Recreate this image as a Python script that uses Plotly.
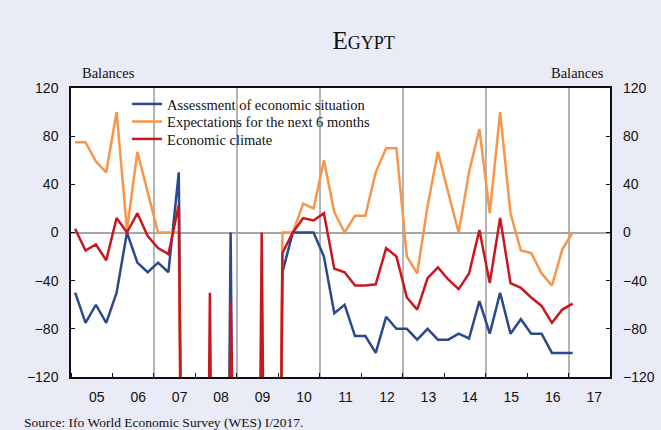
import plotly.graph_objects as go

# ---------------- data (quarterly survey rounds, 2005 Q1 .. 2017 Q1) ----------------
MISSING = -999  # code for survey rounds without a value (drawn off-scale, as in the original)
M = MISSING

years = list(range(2005, 2018))
quarters = [(y, q) for y in years for q in (1, 2, 3, 4)][:49]

assessment = [-50, -75, -60, -75,
              -50, 0, -25, -33,
              -25, -33, 50, M,
              M, M, M, 0,
              M, M, M, M,
              -33, 0, 0, 0,
              -20, -67, -60, -86,
              -86, -100, -70, -80,
              -80, -89, -80, -89,
              -89, -84, -88, -57,
              -84, -50, -84, -72,
              -84, -84, -100, -100,
              -100]

expectations = [75, 75, 59, 50,
                100, 2, 67, 33,
                0, 0, 0, M,
                M, M, M, M,
                M, M, M, M,
                0, 0, 24, 20,
                60, 17, 0, 14,
                14, 50, 70, 70,
                -20, -34, 22, 67,
                33, 0, 50, 86,
                16, 100, 16, -15,
                -17, -34, -44, -14,
                0]

climate = [3, -15, -10, -23,
           12, 0, 16, -3,
           -13, -18, 23, M,
           M, -50, M, -58,
           M, M, 0, M,
           -17, 0, 12, 10,
           16, -30, -33, -44,
           -44, -43, -13, -20,
           -54, -64, -38, -29,
           -39, -47, -34, 2,
           -42, 12, -42, -46,
           -54, -61, -75, -64,
           -59]

series_names = ["Assessment of economic situation",
                "Expectations for the next 6 months",
                "Economic climate"]
series_colors = ["#2B4A8B", "#F7964A", "#C8181F"]

year_labels = ["05", "06", "07", "08", "09", "10", "11", "12", "13", "14", "15", "16", "17"]
y_ticks = [-120, -80, -40, 0, 40, 80, 120]

# x position of each survey round (fraction of year)
xpos = [y + (q - 1) * 0.25 + 0.1 for (y, q) in quarters]

SERIF = "Liberation Serif, Times New Roman, serif"
SANS = "Liberation Sans, Arial, sans-serif"

legend_ids = ["legend", "legend2", "legend3"]
legend_rows = [0.9446, 0.884, 0.8235]

fig = go.Figure()
for name, vals, col, lid in zip(series_names, [assessment, expectations, climate],
                                series_colors, legend_ids):
    fig.add_trace(go.Scatter(x=xpos, y=vals, mode="lines", name=name, legend=lid,
                             line=dict(color=col, width=2.5), connectgaps=False))

# helper trace for the overlay axes (right labels, biennial grid)
fig.add_trace(go.Scatter(x=[None], y=[None], xaxis="x2", yaxis="y2",
                         showlegend=False, hoverinfo="skip"))

legend_style = dict(x=0.104, xanchor="left", yanchor="middle",
                    bgcolor="rgba(0,0,0,0)", borderwidth=0,
                    font=dict(family=SERIF, size=14.5, color="#111"))

fig.update_layout(
    width=661, height=430, autosize=False,
    margin=dict(l=71, r=51, t=88, b=53, autoexpand=False),
    paper_bgcolor="#E9EBF7",
    plot_bgcolor="white",
    title=dict(text="E<span style='font-size:18px'>GYPT</span>",
               font=dict(family=SERIF, size=25, color="#111"),
               x=0.55, xanchor="center", xref="container",
               y=0.907, yanchor="middle", yref="container"),
    showlegend=True,
    legend=dict(y=legend_rows[0], **legend_style),
    legend2=dict(y=legend_rows[1], **legend_style),
    legend3=dict(y=legend_rows[2], **legend_style),
    xaxis=dict(range=[2005, 2018], automargin=False,
               tickmode="array",
               tickvals=[y + 0.62 for y in years],
               ticktext=year_labels,
               ticks="", showgrid=False, zeroline=False,
               showline=True, mirror=True, linecolor="#111", linewidth=1.5,
               tickfont=dict(family=SANS, size=14, color="#111"),
               ticklabelstandoff=6,
               minor=dict(tickmode="array", tickvals=list(range(2005, 2019)),
                          ticks="inside", ticklen=4, tickcolor="#111", tickwidth=1,
                          showgrid=False)),
    xaxis2=dict(range=[2005, 2018], overlaying="x", anchor="y", side="bottom",
                automargin=False,
                tickmode="array", tickvals=list(range(2007, 2018, 2)),
                showgrid=True, gridcolor="#B4B4B4", gridwidth=1.5,
                showticklabels=False, ticks="", showline=False, zeroline=False),
    yaxis=dict(range=[-120, 120], automargin=False,
               tickmode="array", tickvals=y_ticks,
               ticks="inside", ticklen=4, tickcolor="#111",
               showline=True, mirror="ticks", linecolor="#111", linewidth=1.5,
               showgrid=False, zeroline=True, zerolinecolor="#A6A6A6", zerolinewidth=1.5,
               tickfont=dict(family=SANS, size=14, color="#111"),
               ticklabelstandoff=8),
    yaxis2=dict(range=[-120, 120], overlaying="y", anchor="x", side="right",
                automargin=False,
                tickmode="array", tickvals=y_ticks, ticks="",
                showline=False, showgrid=False, zeroline=False,
                tickfont=dict(family=SANS, size=14, color="#111"),
                ticklabelstandoff=12),
    annotations=[
        dict(text="Balances", xref="paper", yref="paper", x=0.0167, y=1.052,
             xanchor="left", yanchor="middle", showarrow=False,
             font=dict(family=SERIF, size=14.5, color="#111")),
        dict(text="Balances", xref="paper", yref="paper", x=0.9926, y=1.052,
             xanchor="right", yanchor="middle", showarrow=False,
             font=dict(family=SERIF, size=14.5, color="#111")),
        dict(text="Source: Ifo World Economic Survey (WES) I/2017.",
             xref="paper", yref="paper", x=-0.0909, y=-0.156,
             xanchor="left", yanchor="middle", showarrow=False,
             font=dict(family=SERIF, size=13.5, color="#111")),
    ],
)

fig.write_html(
    "out.html",
    config={"responsive": False, "displayModeBar": False},
    default_width="661px", default_height="430px",
    post_script="document.body.style.margin='0';"
                "document.body.style.background='#E9EBF7';"
                "document.body.style.overflow='hidden';",
)
